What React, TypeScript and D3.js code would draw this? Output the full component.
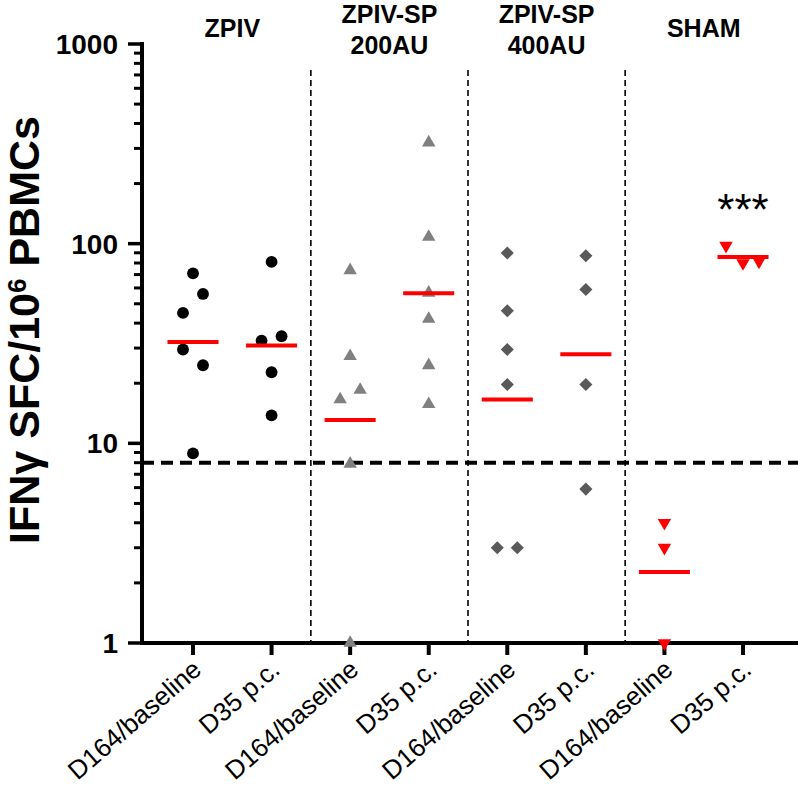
import * as d3 from "d3"

// x categories (one per column) and the group each pair belongs to
const categories = [
  "D164/baseline", "D35 p.c.",
  "D164/baseline", "D35 p.c.",
  "D164/baseline", "D35 p.c.",
  "D164/baseline", "D35 p.c.",
]
const groupTitles = [["ZPIV"], ["ZPIV-SP", "200AU"], ["ZPIV-SP", "400AU"], ["SHAM"]]

// values per column (SFC / 10^6 PBMCs)
const zpivBaseline = [71, 56, 45, 29.5, 24.6, 8.9]
const zpivD35 = [81, 34.4, 32.7, 22.7, 13.8]
const sp200Baseline = [73.5, 27.3, 18.5, 16.6, 7.9, 1]
const sp200D35 = [321, 108, 56.7, 42, 24.6, 15.7]
const sp400Baseline = [89.8, 46.1, 29.5, 19.7, 3, 3]
const sp400D35 = [87, 58.9, 19.7, 5.9]
const shamBaseline = [4, 3, 1]
const shamD35 = [97.7, 80, 81.5]

// horizontal spread slot of each point
const zpivBaselineSlot = [0, 1, -1, -1, 1, 0]
const zpivD35Slot = [0, 1, -1, 0, 0]
const sp200BaselineSlot = [0, 0, 1, -1, 0, 0]
const sp200D35Slot = [0, 0, 0, 0, 0, 0]
const sp400BaselineSlot = [0, 0, 0, 0, -1, 1]
const sp400D35Slot = [0, 0, 0, 0]
const shamBaselineSlot = [0, 0, 0]
const shamD35Slot = [-1.7, 0, 1.6]

// group mean line per column
const means = [32.2, 30.9, 13.1, 56.4, 16.6, 27.9, 2.27, 85.8]

const cutoff = 8
const yTicks = [1, 10, 100, 1000]

const columns = [
  { values: zpivBaseline, slots: zpivBaselineSlot, shape: "circle" },
  { values: zpivD35, slots: zpivD35Slot, shape: "circle" },
  { values: sp200Baseline, slots: sp200BaselineSlot, shape: "up" },
  { values: sp200D35, slots: sp200D35Slot, shape: "up" },
  { values: sp400Baseline, slots: sp400BaselineSlot, shape: "diamond" },
  { values: sp400D35, slots: sp400D35Slot, shape: "diamond" },
  { values: shamBaseline, slots: shamBaselineSlot, shape: "down" },
  { values: shamD35, slots: shamD35Slot, shape: "down" },
]

const FONT = "'Liberation Sans', Arial, Helvetica, sans-serif"

export default function App() {
  const width = 798
  const height = 789

  const x = d3
    .scalePoint<number>()
    .domain(d3.range(categories.length))
    .range([193, 743])
  const y = d3.scaleLog().domain([1, 1000]).range([643, 44])
  const jitter = d3.scaleLinear().domain([-1, 1]).range([-10, 10])
  const step = x.step()

  const axisX = 142
  const axisY = 643

  // minor ticks 2..9 per decade
  const minorTicks: number[] = []
  for (let p = 0; p < 3; p++) {
    for (let m = 2; m <= 9; m++) minorTicks.push(m * Math.pow(10, p))
  }

  const circlePath = d3.symbol().type(d3.symbolCircle).size(110)()
  const triPath = d3.symbol().type(d3.symbolTriangle).size(78)()
  const diamondPath = d3.symbol().type(d3.symbolSquare).size(86)()

  const marker = (shape: string, cx: number, cy: number, key: string) => {
    if (shape === "circle")
      return <path key={key} d={circlePath || ""} transform={`translate(${cx},${cy})`} fill="#000" />
    if (shape === "up")
      return <path key={key} d={triPath || ""} transform={`translate(${cx},${cy})`} fill="#808080" />
    if (shape === "diamond")
      return <path key={key} d={diamondPath || ""} transform={`translate(${cx},${cy}) rotate(45)`} fill="#595959" />
    return <path key={key} d={triPath || ""} transform={`translate(${cx},${cy}) rotate(180)`} fill="#ff0000" />
  }

  return (
    <svg
      width={width}
      height={height}
      style={{ position: "absolute", left: 0, top: 0, background: "#fff" }}
      fontFamily={FONT}
    >
      {/* group separators */}
      {[1, 3, 5].map((i) => (
        <line
          key={"sep" + i}
          x1={(x(i)! + x(i + 1)!) / 2}
          x2={(x(i)! + x(i + 1)!) / 2}
          y1={70}
          y2={axisY}
          stroke="#000"
          strokeWidth={1.6}
          strokeDasharray="6,4"
        />
      ))}

      {/* cutoff line */}
      <line
        x1={axisX}
        x2={width}
        y1={y(cutoff)}
        y2={y(cutoff)}
        stroke="#000"
        strokeWidth={4}
        strokeDasharray="12,7"
      />

      {/* y axis */}
      <line x1={axisX} x2={axisX} y1={y(1000) - 2} y2={axisY + 2} stroke="#000" strokeWidth={4} />
      {yTicks.map((t) => (
        <g key={"yt" + t}>
          <line x1={128} x2={axisX} y1={y(t)} y2={y(t)} stroke="#000" strokeWidth={3.5} />
          <text
            x={118}
            y={y(t)}
            dy="0.36em"
            textAnchor="end"
            fontSize={28}
            fontWeight="bold"
          >
            {t}
          </text>
        </g>
      ))}
      {minorTicks.map((t) => (
        <line key={"mt" + t} x1={134} x2={axisX} y1={y(t)} y2={y(t)} stroke="#000" strokeWidth={3} />
      ))}

      {/* x axis */}
      <line x1={axisX - 2} x2={width} y1={axisY} y2={axisY} stroke="#000" strokeWidth={4} />
      {categories.map((c, i) => (
        <g key={"xt" + i}>
          <line x1={x(i)} x2={x(i)} y1={axisY} y2={axisY + 12} stroke="#000" strokeWidth={4} />
          <text
            transform={`translate(${x(i)! + 10},${axisY + 29}) rotate(-41)`}
            textAnchor="end"
            fontSize={26}
          >
            {c}
          </text>
        </g>
      ))}

      {/* group titles */}
      {groupTitles.map((lines, g) => {
        const cx = (x(g * 2)! + x(g * 2 + 1)!) / 2
        const baselines = lines.length === 1 ? [37] : [23, 54]
        return lines.map((l, k) => (
          <text
            key={"gt" + g + k}
            x={cx}
            y={baselines[k]}
            textAnchor="middle"
            fontSize={25}
            fontWeight="bold"
          >
            {l}
          </text>
        ))
      })}

      {/* points */}
      {columns.map((col, i) =>
        col.values.map((v, j) => marker(col.shape, x(i)! + jitter(col.slots[j]), y(v), `p${i}-${j}`))
      )}

      {/* mean lines */}
      {means.map((m, i) => (
        <line
          key={"m" + i}
          x1={x(i)! - step * 0.325}
          x2={x(i)! + step * 0.325}
          y1={y(m)}
          y2={y(m)}
          stroke="#ff0000"
          strokeWidth={4}
        />
      ))}

      {/* significance */}
      <text x={x(7)} y={225} textAnchor="middle" fontSize={44}>
        ***
      </text>

      {/* y axis title */}
      <text
        transform={`translate(39,330) rotate(-90)`}
        textAnchor="middle"
        fontSize={43}
        fontWeight="bold"
      >
        IFNγ SFC/10
        <tspan fontSize={26} dy={-13}>
          6
        </tspan>
        <tspan dy={13}> PBMCs</tspan>
      </text>
    </svg>
  )
}
